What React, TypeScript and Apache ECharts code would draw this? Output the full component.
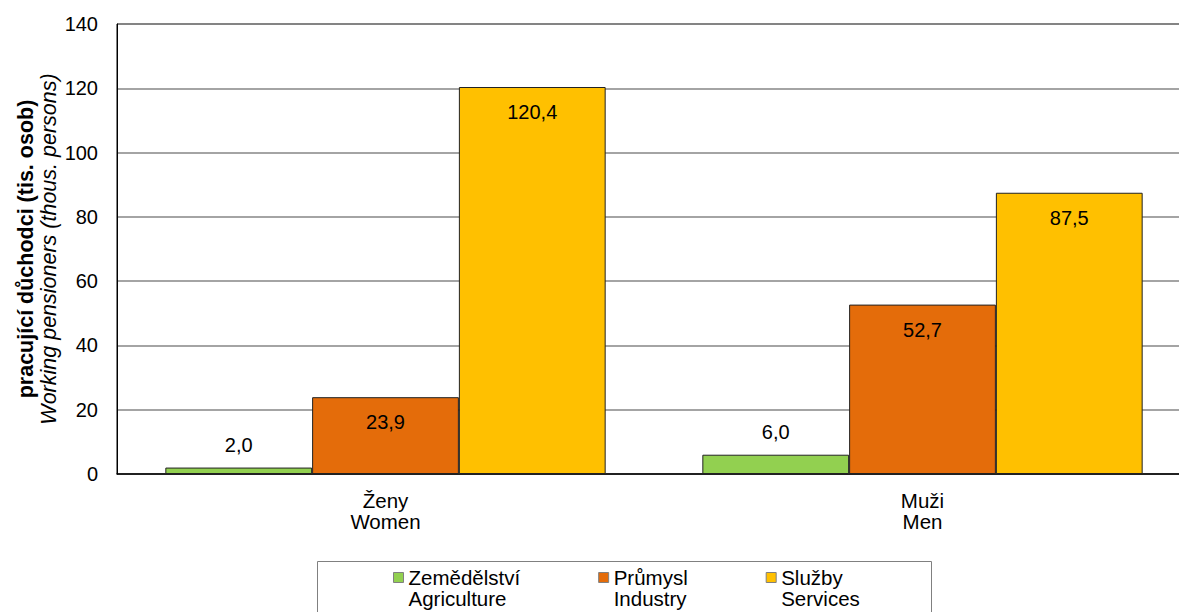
import React, { useEffect, useRef } from "react";
import * as echarts from "echarts";

const categories = ["Ženy\nWomen", "Muži\nMen"];
const seriesNames = ["Zemědělství\nAgriculture", "Průmysl\nIndustry", "Služby\nServices"];
const agriculture = [2.0, 6.0];
const industry = [23.9, 52.7];
const services = [120.4, 87.5];
const colors = ["#92D050", "#E46C0A", "#FFC000"];
const yTicks = { min: 0, max: 140, interval: 20 };
const yNameMain = "pracující důchodci (tis. osob)";
const yNameSub = "Working pensioners (thous. persons)";

const FONT = "'Liberation Sans', Arial, sans-serif";

function fmt(v: number) {
  return v.toFixed(1).replace(".", ",");
}

function makeData(values: number[]) {
  return values.map((v) => ({
    value: v,
    label: v < 10
      ? { position: "top", distance: 13 }
      : { position: "insideTop", distance: 15 },
  }));
}

export default function App() {
  const ref = useRef<HTMLDivElement>(null);
  useEffect(() => {
    if (!ref.current) return;
    const chart = echarts.init(ref.current, undefined, { renderer: "svg" });
    const allSeries = [agriculture, industry, services];
    chart.setOption({
      animation: false,
      backgroundColor: "#ffffff",
      textStyle: { fontFamily: FONT },
      grid: {
        left: 117,
        top: 24,
        right: -12,
        bottom: 138,
        show: true,
        borderColor: "#000000",
        borderWidth: 1,
        backgroundColor: "transparent",
        containLabel: false,
        outerBoundsMode: "none",
      },
      xAxis: {
        type: "category",
        data: categories,
        axisLine: { show: true, lineStyle: { color: "#000000", width: 1.5 } },
        axisTick: { show: false },
        axisLabel: {
          fontFamily: FONT,
          fontSize: 20.5,
          lineHeight: 21,
          color: "#000000",
          margin: 16,
        },
      },
      yAxis: {
        type: "value",
        min: yTicks.min,
        max: yTicks.max,
        interval: yTicks.interval,
        axisLine: { show: true, lineStyle: { color: "#000000", width: 1 } },
        axisTick: { show: false },
        splitLine: { show: true, lineStyle: { color: "#868686", width: 1.5 } },
        axisLabel: {
          fontFamily: FONT,
          fontSize: 20,
          color: "#000000",
          margin: 19,
        },
      },
      legend: {
        show: true,
        left: 393,
        top: 546,
        padding: 0,
        orient: "horizontal",
        icon: "rect",
        itemWidth: 10,
        itemHeight: 10,
        itemGap: 78,
        formatter: (name: string) => "\n" + name,
        data: seriesNames.map((n) => ({ name: n, itemStyle: { borderColor: "#808080", borderWidth: 1 } })),
        textStyle: {
          fontFamily: FONT,
          fontSize: 20.5,
          lineHeight: 21,
          color: "#000000",
        },
        selectedMode: false,
      },
      graphic: [
        {
          type: "rect",
          shape: { x: 317.5, y: 561.5, width: 614, height: 80 },
          style: { fill: "none", stroke: "#808080", lineWidth: 1 },
          silent: true,
        },
        {
          type: "text",
          x: 25.5,
          y: 249,
          rotation: Math.PI / 2,
          style: {
            text: yNameMain,
            font: `bold 21.5px ${FONT}`,
            fill: "#000000",
            align: "center",
            verticalAlign: "middle",
          },
        },
        {
          type: "text",
          x: 48.5,
          y: 249,
          rotation: Math.PI / 2,
          style: {
            text: yNameSub,
            font: `italic 21.5px ${FONT}`,
            fill: "#000000",
            align: "center",
            verticalAlign: "middle",
          },
        },
      ],
      series: allSeries.map((vals, i) => ({
        type: "bar",
        name: seriesNames[i],
        data: makeData(vals),
        barGap: "0%",
        barCategoryGap: "18%",
        itemStyle: { color: colors[i], borderColor: "#222222", borderWidth: 1 },
        label: {
          show: true,
          formatter: (p: any) => fmt(p.value),
          fontFamily: FONT,
          fontSize: 20,
          lineHeight: 20,
          color: "#000000",
        },
      })),
    });
    return () => chart.dispose();
  }, []);
  return (
    <div
      ref={ref}
      style={{ position: "fixed", left: 0, top: 0, width: 1179, height: 612, background: "#fff" }}
    />
  );
}
